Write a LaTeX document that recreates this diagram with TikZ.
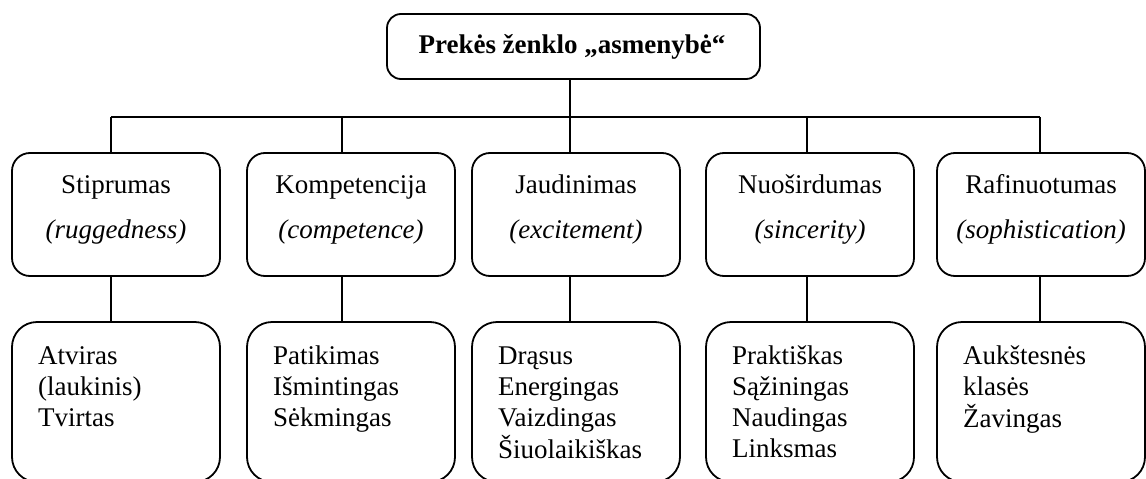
\documentclass[tikz,border=0pt]{standalone}
\usepackage{fontspec}
\setmainfont{Liberation Serif}
\begin{document}
\begin{tikzpicture}[x=1pt,y=-1pt,
  card/.style={draw, line width=1.8pt, rounded corners=#1, inner sep=0pt,
    outer sep=0pt, anchor=north west, minimum width=208pt},
  upper/.style={card=18pt, minimum height=123pt},
  lower/.style={card=25pt, minimum height=160pt},
  label/.style={inner sep=0pt, font=\fontsize{27pt}{31pt}\selectfont},
  link/.style={line width=1.4pt}]
\useasboundingbox (0,0) rectangle (1146,479);
\clip (0,0) rectangle (1146,479);

% root
\node[card=14pt, minimum width=373pt, minimum height=65pt] (root) at (387,14) {};
\node[label, anchor=base, font=\fontsize{27pt}{31pt}\selectfont\bfseries] (roottxt) at (572,53) {Prekės ženklo „asmenybė“};

% junction points on the bus
\coordinate (jt) at (570,117);
\coordinate (j1) at (111,117);
\coordinate (j2) at (342,117);
\coordinate (j3) at (570,117);
\coordinate (j4) at (807,117);
\coordinate (j5) at (1040,117);

% dimension boxes
\node[upper] (d1) at (12,153) {};
\node[upper] (d2) at (247,153) {};
\node[upper] (d3) at (472,153) {};
\node[upper] (d4) at (706,153) {};
\node[upper] (d5) at (937,153) {};

% trait boxes
\node[lower] (f1) at (12,322) {};
\node[lower] (f2) at (247,322) {};
\node[lower] (f3) at (472,322) {};
\node[lower] (f4) at (706,322) {};
\node[lower] (f5) at (937,322) {};

% dimension names
\newcommand{\dimtext}[2]{\begin{tabular}[t]{@{}c@{}}#1\\[14pt]\itshape(#2)\end{tabular}}
\node[label, anchor=base] (n1) at (d1.north |- 0,193) {\dimtext{Stiprumas}{ruggedness}};
\node[label, anchor=base] (n2) at (d2.north |- 0,193) {\dimtext{Kompetencija}{competence}};
\node[label, anchor=base] (n3) at (d3.north |- 0,193) {\dimtext{Jaudinimas}{excitement}};
\node[label, anchor=base] (n4) at (d4.north |- 0,193) {\dimtext{Nuoširdumas}{sincerity}};
\node[label, anchor=base] (n5) at (d5.north |- 0,193) {\dimtext{Rafinuotumas}{sophistication}};

% trait lists
\newcommand{\traits}[1]{\begin{tabular}[t]{@{}l@{}}#1\end{tabular}}
\node[label, anchor=base west] (l1) at (38,364) {\traits{Atviras\\(laukinis)\\Tvirtas}};
\node[label, anchor=base west] (l2) at (273,364) {\traits{Patikimas\\Išmintingas\\Sėkmingas}};
\node[label, anchor=base west] (l3) at (498,364) {\traits{Drąsus\\Energingas\\Vaizdingas\\Šiuolaikiškas}};
\node[label, anchor=base west] (l4) at (732,364) {\traits{Praktiškas\\Sąžiningas\\Naudingas\\Linksmas}};
\node[label, anchor=base west] (l5) at (963,364) {\traits{Aukštesnės\\klasės\\Žavingas}};

% connectors
\draw[link] (root.south -| jt) -- (jt);
\draw[link] (j1) -- (j5);
\foreach \i in {1,...,5}{
  \draw[link] (j\i) -- (j\i |- d\i.north);
  \draw[link] (j\i |- d\i.south) -- (j\i |- f\i.north);
}
\end{tikzpicture}
\end{document}
